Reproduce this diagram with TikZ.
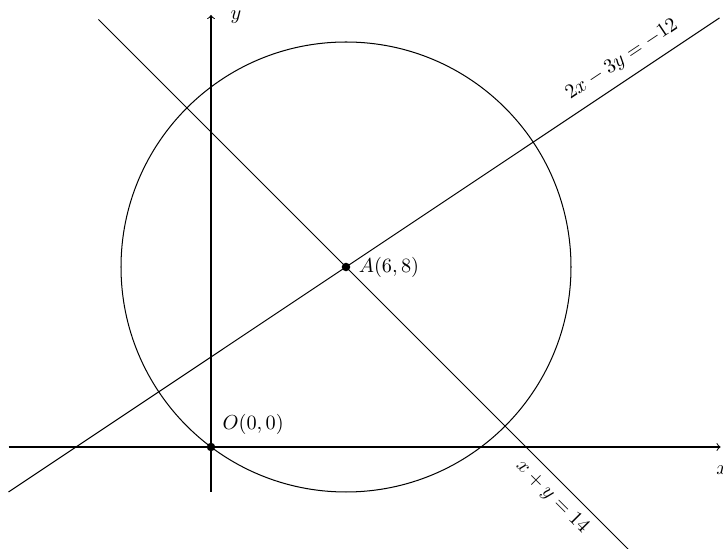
\documentclass[tikz,border=0pt]{standalone}
\begin{document}
\begin{tikzpicture}[x=0.39cm,y=0.39cm,
  dot/.style={circle,fill=black,inner sep=0pt,minimum size=4.2pt},
  curve/.style={line width=0.5pt}]
\useasboundingbox (-9.378,-4.533) rectangle (22.756,19.867);
\clip (-9.378,-4.533) rectangle (22.756,19.867);
% coordinates
\coordinate (O) at (0,0);
\coordinate (A) at (6,8);
\coordinate (xl) at (-9,0);
\coordinate (xr) at (22.65,0);
\coordinate (yb) at (0,-2);
\coordinate (yt) at (0,19.2);
\coordinate (p1) at (-5,19);
\coordinate (p2) at (19,-5);
\coordinate (q1) at (-9,-2);
\coordinate (q2) at (22.6,19.07);
% axes
\draw[curve,->] (xl) -- (xr);
\draw[curve,->] (yb) -- (yt);
\node[anchor=center] (xlab) at (22.72,-1.02) {$x$};
\node[anchor=west] (ylab) at (0.55,19.1) {$y$};
% circle
\draw[curve] (A) circle[radius=10];
% lines
\draw[curve] (p1) -- (p2);
\draw[curve] (q1) -- (q2);
% points
\node[dot] (Od) at (O) {};
\node[dot] (Ad) at (A) {};
\node[anchor=south west] (Olab) at (0.2,0.25) {$O(0,0)$};
\node[anchor=west] (Alab) at (6.25,8) {$A(6,8)$};
% line labels
\node[rotate=33.69] (l2lab) at (18.27,17.2) {$2x-3y=-12$};
\node[rotate=-45] (l1lab) at (15.16,-2.22) {$x+y=14$};
\end{tikzpicture}
\end{document}
